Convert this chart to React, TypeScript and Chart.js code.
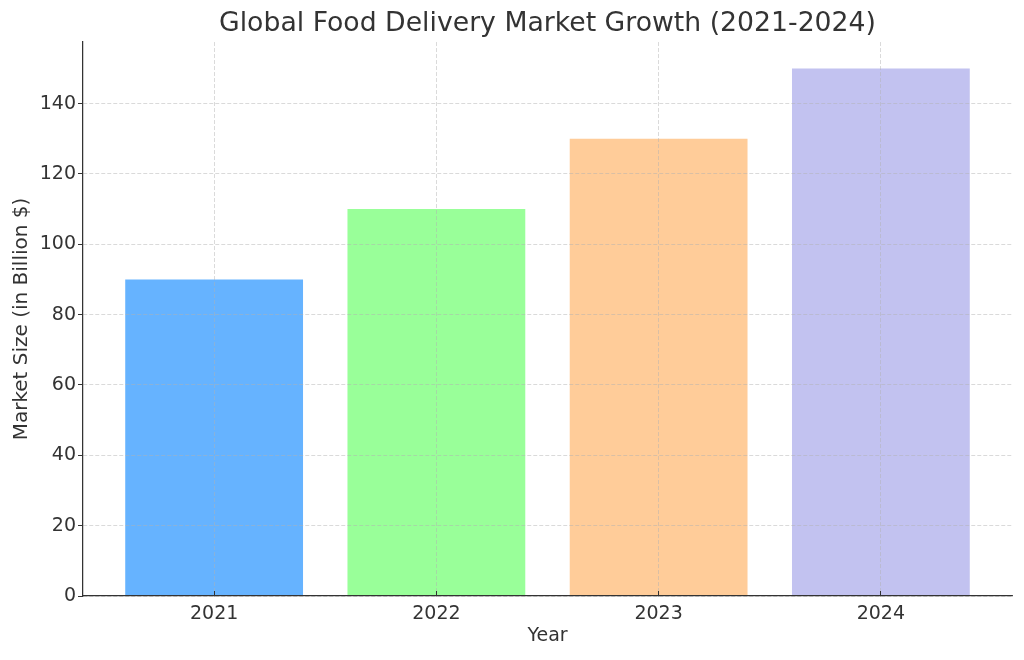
import React, { useEffect, useRef } from "react";
import { Chart, registerables } from "chart.js";

Chart.register(...registerables);

const years = ["2021", "2022", "2023", "2024"];
const marketSize = [90, 110, 130, 150];
const barColors = ["#66b3ff", "#99ff99", "#ffcc99", "#c2c2f0"];
const yTicks = [0, 20, 40, 60, 80, 100, 120, 140];

const FONT = "'DejaVu Sans', sans-serif";
const TEXT = "#333333";

const gridBase = {
  display: true,
  drawOnChartArea: true,
  drawTicks: true,
  offset: false,
  color: "rgba(176,176,176,0.6)",
  lineWidth: 0.8,
  tickColor: "#333333",
  tickWidth: 1,
  tickBorderDash: [],
  z: 1,
};

const borderOpts = {
  display: true,
  color: "#333333",
  width: 1.25,
  dash: [4, 2],
  z: 2,
};

export default function App() {
  const ref = useRef<HTMLCanvasElement | null>(null);

  useEffect(() => {
    if (!ref.current) return;
    const chart = new Chart(ref.current, {
      type: "bar",
      data: {
        datasets: [
          {
            data: years.map((_, i) => ({ x: i, y: marketSize[i] })),
            backgroundColor: barColors,
            borderWidth: 0,
            categoryPercentage: 1,
            barPercentage: 0.8,
          },
        ],
      },
      options: {
        animation: false,
        responsive: false,
        devicePixelRatio: 1,
        layout: { padding: { left: 0, right: 12, top: 0, bottom: 0 } },
        plugins: {
          legend: { display: false },
          tooltip: { enabled: false },
          title: {
            display: true,
            fullSize: false,
            text: "Global Food Delivery Market Growth (2021-2024)",
            color: TEXT,
            font: { family: FONT, size: 26.7, weight: "normal", lineHeight: 1.2 },
            padding: { top: 8, bottom: 2 },
          },
        },
        scales: {
          x: {
            type: "linear",
            min: -0.59,
            max: 3.59,
            offset: false,
            afterBuildTicks: (scale: any) => {
              scale.ticks = years.map((_, i) => ({ value: i }));
            },
            afterFit: (scale: any) => {
              scale.height = 64;
            },
            ticks: {
              callback: (v: any) => years[Number(v)] ?? "",
              color: TEXT,
              font: { family: FONT, size: 19 },
              padding: 12,
              maxRotation: 0,
              autoSkip: false,
            },
            grid: { ...gridBase, tickLength: -5 },
            border: borderOpts,
            title: {
              display: true,
              text: "Year",
              color: TEXT,
              font: { family: FONT, size: 19, lineHeight: 1.2 },
              padding: { top: 0, bottom: 12.6 },
            },
          },
          y: {
            type: "linear",
            min: 0,
            max: 157.5,
            afterBuildTicks: (scale: any) => {
              scale.ticks = yTicks.map((v) => ({ value: v }));
            },
            afterFit: (scale: any) => {
              scale.width = 83;
            },
            ticks: {
              color: TEXT,
              font: { family: FONT, size: 19 },
              padding: 2,
            },
            grid: { ...gridBase, tickLength: 5 },
            border: borderOpts,
            title: {
              display: true,
              text: "Market Size (in Billion $)",
              color: TEXT,
              font: { family: FONT, size: 20, lineHeight: 1.2 },
              padding: { top: 9.5, bottom: 0 },
            },
          },
        },
      } as any,
    });
    return () => chart.destroy();
  }, []);

  return (
    <div style={{ position: "fixed", left: 0, top: 0, width: 1024, height: 660, background: "#fff" }}>
      <canvas ref={ref} width={1024} height={660} style={{ display: "block" }} />
    </div>
  );
}
